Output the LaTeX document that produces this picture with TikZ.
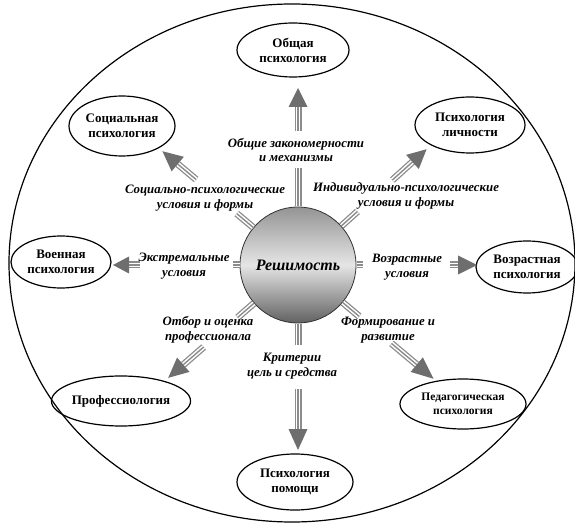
\documentclass[tikz,border=0pt]{standalone}
\usepackage{fontspec}
\setmainfont{Liberation Serif}
\usetikzlibrary{shapes.geometric,calc}
\begin{document}
\begin{tikzpicture}[x=1pt,y=-1pt,
  area/.style={ellipse, draw, line width=1.2pt, inner sep=0pt, align=center,
    font=\fontsize{13}{15}\selectfont\bfseries},
  lbl/.style={align=center, inner sep=0pt, font=\fontsize{12.8}{14.5}\selectfont\bfseries\itshape},
  shaftline/.style={draw=black!45, line width=7pt,
    postaction={draw=white, line width=4.4pt},
    postaction={draw=black!45, line width=1.4pt}},
  headfill/.style={fill=black!57}]
\useasboundingbox (0,0) rectangle (575,526);
% outer frame
\draw[line width=1.2pt] (292,263) ellipse [x radius=283, y radius=259];
% centre
\node[circle, draw=black!80, line width=0.8pt, minimum size=116pt, inner sep=0pt,
  top color=black!42, bottom color=black!62, middle color=black!10,
  font=\fontsize{16}{18}\selectfont\bfseries\itshape] (c) at (298,265) {Решимость};
% target areas
\node[area, minimum width=112pt, minimum height=54pt] (gen) at (293,50) {Общая\\психология};
\node[area, minimum width=106pt, minimum height=60pt] (soc) at (122,126) {Социальная\\психология};
\node[area, minimum width=110pt, minimum height=56pt] (pers) at (470,125) {Психология\\личности};
\node[area, minimum width=100pt, minimum height=52pt] (mil) at (61,262) {Военная\\психология};
\node[area, minimum width=102pt, minimum height=52pt] (age) at (527,267) {Возрастная\\психология};
\node[area, minimum width=124pt, minimum height=50pt] (prof) at (121,401) {Профессиология};
\node[area, minimum width=126pt, minimum height=50pt, font=\fontsize{11.5}{13.5}\selectfont\bfseries] (ped) at (463,404) {Педагогическая\\психология};
\node[area, minimum width=116pt, minimum height=56pt] (help) at (295,482) {Психология\\помощи};
% arrows: angle / stub start / stub end / shaft start / head base / tip / half width
\foreach \a/\sa/\sb/\ha/\hb/\ht/\w [count=\i] in {
  270/58.5/97/134/158/177/9.5,
  90/58.5/80/124/164/185/9.5,
  180/58.5/65/158/169/185/8.5,
  0/58.5/65/152/160/179/9.5,
  220/58.5/80/133/157/177/9.5,
  318/58.5/80/127/154/173/9.5,
  139/58.5/80/125/152/172/9.5,
  40/58.5/80/122/155/177/9.5}{
  \coordinate (s\i a) at ($(c)+(\a:\sa)$);
  \coordinate (s\i b) at ($(c)+(\a:\sb)$);
  \coordinate (h\i a) at ($(c)+(\a:\ha)$);
  \coordinate (h\i b) at ($(c)+(\a:\hb)$);
  \coordinate (t\i) at ($(c)+(\a:\ht)$);
  \draw[shaftline] (s\i a) -- (s\i b);
  \draw[shaftline] (h\i a) -- (h\i b);
  \fill[headfill] ($(h\i b)!\w pt!90:(t\i)$) -- (t\i) -- ($(h\i b)!\w pt!-90:(t\i)$) -- cycle;
}
% labels
\node[lbl] (l1) at (296,150) {Общие закономерности\\и механизмы};
\node[lbl] (l2) at (205,198) {Социально-психологические\\условия и формы};
\node[lbl] (l3) at (406,196) {Индивидуально-психологические\\условия и формы};
\node[lbl] (l4) at (184,266) {Экстремальные\\условия};
\node[lbl] (l5) at (407,267) {Возрастные\\условия};
\node[lbl] (l6) at (208,330) {Отбор и оценка\\профессионала};
\node[lbl] (l7) at (388,330) {Формирование и\\развитие};
\node[lbl] (l8) at (292,366) {Критерии\\цель и средства};
\end{tikzpicture}
\end{document}
